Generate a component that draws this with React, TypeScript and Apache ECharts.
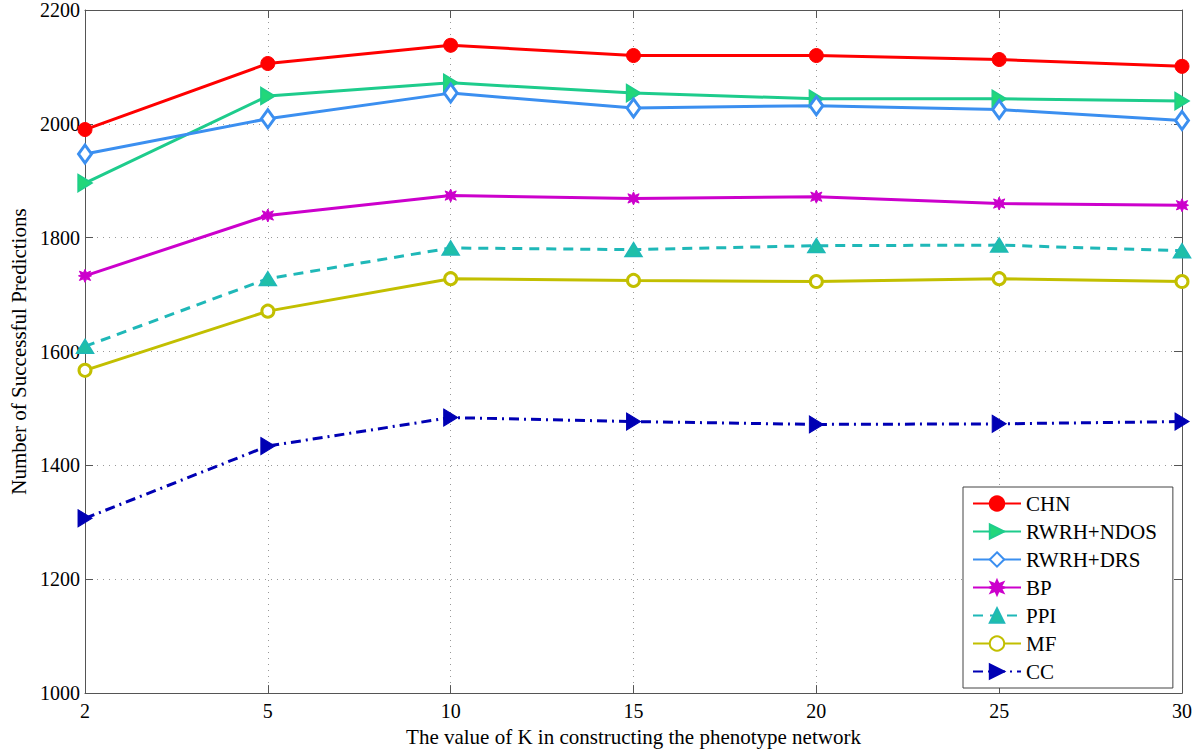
import React, { useEffect, useRef } from "react";
import * as echarts from "echarts";

const kValues = ["2", "5", "10", "15", "20", "25", "30"];
const chn = [1990, 2106, 2138, 2120, 2120, 2113, 2101];
const rwrhNdos = [1896, 2049, 2072, 2054, 2044, 2044, 2040];
const rwrhDrs = [1947, 2009, 2054, 2028, 2032, 2025, 2006];
const bp = [1733, 1839, 1874, 1869, 1872, 1860, 1857];
const ppi = [1609, 1728, 1782, 1779, 1786, 1787, 1777];
const mf = [1567, 1671, 1728, 1725, 1723, 1728, 1723];
const cc = [1307, 1434, 1484, 1477, 1472, 1473, 1477];

const FONT = "Liberation Serif";
const RIGHT_TRI = "path://M0,0L10,6L0,12Z";
const STAR =
  "path://M5,0L6.2,3L9.3,1.6L7.9,4.6L10,5.6L7.9,6.6L9.3,9.6L6.2,8.2L5,11.2L3.8,8.2L0.7,9.6L2.1,6.6L0,5.6L2.1,4.6L0.7,1.6L3.8,3Z";

export default function App() {
  const ref = useRef<HTMLDivElement>(null);
  useEffect(() => {
    if (!ref.current) return;
    const chart = echarts.init(ref.current, undefined, { renderer: "svg" });
    const mk = (
      name: string,
      data: number[],
      color: string,
      symbol: string,
      symbolSize: number | number[],
      fill: string,
      lineType: any,
      borderWidth: number
    ) => ({
      name,
      type: "line",
      data,
      xAxisIndex: 0,
      yAxisIndex: 0,
      symbol,
      symbolSize,
      showAllSymbol: true,
      lineStyle: { color, width: 3, type: lineType },
      itemStyle: { color: fill, borderColor: color, borderWidth },
      emphasis: { disabled: true },
      z: 3,
    });
    chart.setOption({
      animation: false,
      backgroundColor: "#ffffff",
      textStyle: { fontFamily: FONT },
      grid: { left: 78, top: 8, right: 18, bottom: 52, containLabel: false },
      legend: {
        orient: "vertical",
        left: 963,
        top: 487,
        itemWidth: 48,
        itemHeight: 18,
        itemGap: 7,
        padding: [6, 16, 6, 9],
        backgroundColor: "#ffffff",
        borderColor: "#444",
        borderWidth: 1,
        textStyle: { fontFamily: FONT, fontSize: 21, color: "#000" },
        data: ["CHN", "RWRH+NDOS", "RWRH+DRS", "BP", "PPI", "MF", "CC"],
      },
      xAxis: [
        {
          type: "category",
          data: kValues,
          boundaryGap: false,
          name: "The value of K in constructing the phenotype network",
          nameLocation: "middle",
          nameGap: 31,
          nameTextStyle: { fontFamily: FONT, fontSize: 21, color: "#000" },
          axisLine: { lineStyle: { color: "#555", width: 1 } },
          axisTick: { inside: true, length: 8, alignWithLabel: true, lineStyle: { color: "#555" } },
          axisLabel: { fontFamily: FONT, fontSize: 20, color: "#000", margin: 8 },
          splitLine: { show: true, lineStyle: { color: "#999", type: [1, 5], width: 1 } },
        },
        {
          type: "category",
          data: kValues,
          boundaryGap: false,
          position: "top",
          axisLine: { lineStyle: { color: "#555", width: 1 } },
          axisTick: { inside: true, length: 8, alignWithLabel: true, lineStyle: { color: "#555" } },
          axisLabel: { show: false },
          splitLine: { show: false },
        },
      ],
      yAxis: [
        {
          type: "value",
          min: 1000,
          max: 2200,
          interval: 200,
          name: "Number of Successful Predictions",
          nameLocation: "middle",
          nameGap: 56,
          nameTextStyle: { fontFamily: FONT, fontSize: 21, color: "#000" },
          axisLine: { show: true, lineStyle: { color: "#555", width: 1 } },
          axisTick: { show: true, inside: true, length: 8, lineStyle: { color: "#555" } },
          axisLabel: {
            fontFamily: FONT,
            fontSize: 20,
            color: "#000",
            margin: 5,
            formatter: (v: number) => String(v),
          },
          splitLine: { show: true, lineStyle: { color: "#999", type: [1, 5], width: 1 } },
        },
        {
          type: "value",
          min: 1000,
          max: 2200,
          interval: 200,
          position: "right",
          axisLine: { show: true, lineStyle: { color: "#555", width: 1 } },
          axisTick: { show: true, inside: true, length: 8, lineStyle: { color: "#555" } },
          axisLabel: { show: false },
          splitLine: { show: false },
        },
      ],
      series: [
        mk("CHN", chn, "#ff0000", "circle", 14, "#ff0000", "solid", 1),
        mk("RWRH+NDOS", rwrhNdos, "#1ecc8c", RIGHT_TRI, [14, 17], "#22d77a", "solid", 1.5),
        mk("RWRH+DRS", rwrhDrs, "#3b8ff0", "diamond", [13, 18], "#ffffff", "solid", 3),
        mk("BP", bp, "#cc00cc", STAR, 13, "#cc00cc", "solid", 1),
        mk("PPI", ppi, "#1fb8b8", "triangle", [17, 14], "#1fbfa8", [10, 7], 1.5),
        mk("MF", mf, "#c2bf00", "circle", 12, "#ffffff", "solid", 3),
        mk("CC", cc, "#0000b4", RIGHT_TRI, [14, 17], "#0000b4", [10, 5, 2, 5], 1),
      ],
    });
    return () => chart.dispose();
  }, []);
  return (
    <div
      ref={ref}
      style={{ position: "fixed", left: 0, top: 0, width: 1200, height: 752, background: "#fff" }}
    />
  );
}
